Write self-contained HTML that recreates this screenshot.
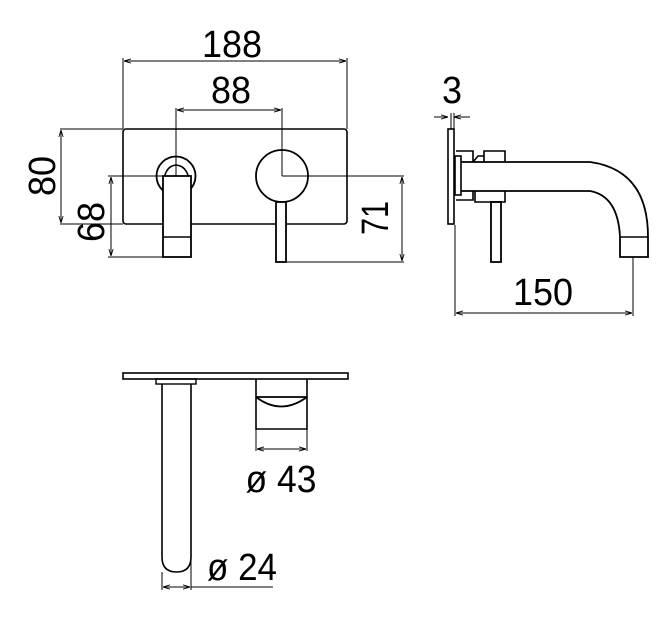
<!DOCTYPE html>
<html><head><meta charset="utf-8"><style>html,body{margin:0;padding:0;background:#fff}</style></head>
<body>
<svg width="672" height="614" viewBox="0 0 672 614" xmlns="http://www.w3.org/2000/svg">
<defs>
<marker id="a" viewBox="0 0 10 10" refX="10" refY="5" markerWidth="7" markerHeight="7" orient="auto-start-reverse"><path d="M0,2 L10,5 L0,8" fill="none" stroke="#000" stroke-width="1.2"/></marker>
</defs>
<g fill="none" stroke="#000" stroke-width="1" font-family="Liberation Sans, sans-serif">
<!-- front view -->
<line x1="123" y1="58" x2="123" y2="129"/><line x1="347" y1="58" x2="347" y2="129"/>
<line x1="124" y1="61" x2="346" y2="61" marker-start="url(#a)" marker-end="url(#a)"/>
<line x1="176" y1="108" x2="176" y2="176"/><line x1="282" y1="108" x2="282" y2="176"/>
<line x1="177" y1="110" x2="281" y2="110" marker-start="url(#a)" marker-end="url(#a)"/>
<rect x="123" y="129" width="224" height="95" rx="3" stroke-width="1.6"/>
<line x1="60" y1="129" x2="123" y2="129"/><line x1="60" y1="224" x2="123" y2="224"/>
<line x1="61" y1="130" x2="61" y2="223" marker-start="url(#a)" marker-end="url(#a)"/>
<circle cx="176" cy="176" r="19.5" stroke-width="1.8"/>
<path d="M163,190 Q163,166 176,165 Q190,166 190,190" stroke-width="1.6"/>
<rect x="163" y="176" width="28" height="81" fill="#fff" stroke-width="1.8"/>
<line x1="163" y1="237" x2="191" y2="237" stroke-width="1.6"/>
<line x1="108" y1="176" x2="178" y2="176"/><line x1="108" y1="257" x2="163" y2="257"/>
<line x1="111" y1="177" x2="111" y2="256" marker-start="url(#a)" marker-end="url(#a)"/>
<circle cx="282" cy="176" r="26" stroke-width="1.8"/>
<rect x="276" y="202" width="10" height="60" fill="#fff" stroke-width="1.8"/>
<line x1="282" y1="176" x2="404" y2="176"/><line x1="286" y1="262" x2="404" y2="262"/>
<line x1="402" y1="177" x2="402" y2="261" marker-start="url(#a)" marker-end="url(#a)"/>
<!-- side view -->
<line x1="434" y1="117" x2="448" y2="117" marker-end="url(#a)"/>
<line x1="470" y1="117" x2="454" y2="117" marker-end="url(#a)"/>
<line x1="451" y1="113" x2="451" y2="129"/><line x1="454" y1="113" x2="454" y2="129"/>
<rect x="448" y="129" width="6" height="95" stroke-width="1.6"/>
<rect x="455" y="156" width="6" height="39" stroke-width="1.6"/>
<path d="M456,151 L473,151 L473,162 M456,200 L473,200 L473,191" stroke-width="1.6"/>
<path d="M484,162 L484,151 L505,151 L505,162 M473,162 L478,156 L484,156" stroke-width="1.6"/>
<path d="M475,191 L475,202 L505,202 L505,191" stroke-width="1.6"/>
<path d="M461,162 L590,162 Q648,170 648,237 L648,257 L620,257 L620,237 Q618,196 590,191 L461,191" stroke-width="1.8"/>
<line x1="620" y1="237" x2="648" y2="237" stroke-width="1.6"/>
<rect x="491" y="202" width="10" height="60" stroke-width="1.8"/>
<line x1="455" y1="225" x2="455" y2="316"/><line x1="633" y1="257" x2="633" y2="316"/>
<line x1="456" y1="313" x2="632" y2="313" marker-start="url(#a)" marker-end="url(#a)"/>
<!-- top view -->
<rect x="123" y="373" width="225" height="6" stroke-width="1.6"/>
<rect x="156" y="379" width="40" height="5" stroke-width="1.4"/>
<path d="M162,384 L162,557 Q162,572 176.5,572 Q191,572 191,557 L191,384" stroke-width="1.6"/>
<path d="M256,379 L256,429 L307,429 L307,379" stroke-width="1.6"/>
<path d="M256,397 Q281,416 307,397 M256,397 L307,397" stroke-width="1.8"/>
<line x1="256" y1="429" x2="256" y2="451"/><line x1="307" y1="429" x2="307" y2="451"/>
<line x1="257" y1="449" x2="306" y2="449" marker-start="url(#a)" marker-end="url(#a)"/>
<line x1="162" y1="572" x2="162" y2="590"/><line x1="191" y1="557" x2="191" y2="590"/>
<line x1="163" y1="587" x2="190" y2="587" marker-start="url(#a)" marker-end="url(#a)"/>
<line x1="191" y1="587" x2="273" y2="587"/>
</g>
<g font-family="Liberation Sans, sans-serif" font-size="38" fill="#000" text-anchor="middle">
<text x="232" y="57" textLength="60" lengthAdjust="spacingAndGlyphs">188</text>
<text x="231" y="103" textLength="40" lengthAdjust="spacingAndGlyphs">88</text>
<text x="543" y="305" textLength="60" lengthAdjust="spacingAndGlyphs">150</text>
<text x="452" y="103" textLength="20" lengthAdjust="spacingAndGlyphs">3</text>
<text x="281" y="492" textLength="71" lengthAdjust="spacingAndGlyphs">ø 43</text>
<text x="242" y="580" textLength="70" lengthAdjust="spacingAndGlyphs">ø 24</text>
<text transform="translate(55,176) rotate(-90)" textLength="40" lengthAdjust="spacingAndGlyphs">80</text>
<text transform="translate(104,222) rotate(-90)" textLength="40" lengthAdjust="spacingAndGlyphs">68</text>
<text transform="translate(388,218) rotate(-90)" textLength="34" lengthAdjust="spacingAndGlyphs">71</text>
</g>
</svg>
</body></html>
